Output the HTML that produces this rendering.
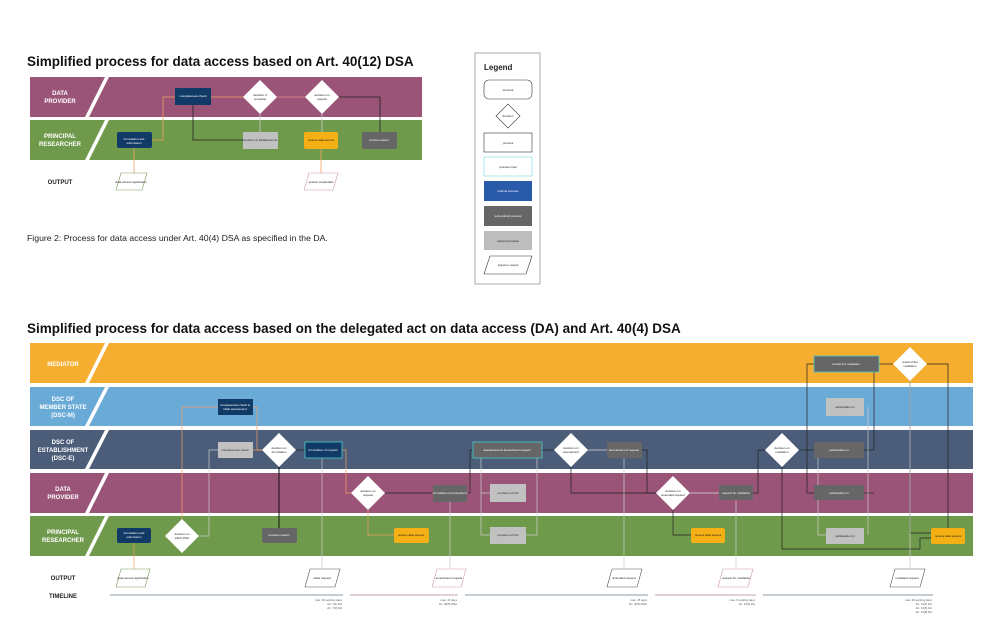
<!DOCTYPE html>
<html><head><meta charset="utf-8"><style>
html,body{margin:0;padding:0;background:#fff;}
svg{display:block;font-family:"Liberation Sans",sans-serif;}
.t{font-size:3px;fill:#fff;text-anchor:middle;}
.tk{font-size:3px;fill:#222;text-anchor:middle;}
.lab{font-size:6px;font-weight:bold;fill:#fff;text-anchor:middle;}
</style></head><body>
<svg width="1000" height="633" viewBox="0 0 1000 633" xmlns="http://www.w3.org/2000/svg">
<rect width="1000" height="633" fill="#fff"/>
<!-- TOP DIAGRAM -->
<text x="27" y="66" font-size="13.5" font-weight="bold" fill="#111">Simplified process for data access based on Art. 40(12) DSA</text>
<rect x="30" y="77" width="392" height="40" fill="#9a5477"/>
<rect x="30" y="120" width="392" height="40" fill="#6f9a4c"/>
<polygon points="105,77 109,77 89,117 85,117" fill="#fff"/>
<polygon points="105,120 109,120 89,160 85,160" fill="#fff"/>
<text class="lab" x="60" y="95">DATA</text><text class="lab" x="60" y="103">PROVIDER</text>
<text class="lab" x="60" y="138">PRINCIPAL</text><text class="lab" x="60" y="146">RESEARCHER</text>
<text x="60" y="184" font-size="6" font-weight="bold" fill="#222" text-anchor="middle">OUTPUT</text>
<g fill="none" stroke-width="0.8">
<path d="M152,140 H163 V97 H175" stroke="#f0a060"/>
<path d="M211,97 H243" stroke="#f0a060"/>
<path d="M277,97 H305" stroke="#d88"/>
<path d="M193,105 V140 H243" stroke="#222"/>
<path d="M260,114 V132" stroke="#ccc"/>
<path d="M322,114 V132" stroke="#ccc"/>
<path d="M339,97 H380 V132" stroke="#222"/>
<path d="M134,148 V173" stroke="#f0a060"/>
<path d="M321,149 V173" stroke="#f0a060"/>
</g>
<rect x="175" y="88" width="36" height="17" fill="#123a66"/><text class="t" x="193" y="97">completeness check</text>
<polygon points="260,80 277,97 260,114 243,97" fill="#fff"/><text class="tk" x="260" y="96">decision if</text><text class="tk" x="260" y="100">complete</text>
<polygon points="322,80 339,97 322,114 305,97" fill="#fff"/><text class="tk" x="322" y="96">decision on</text><text class="tk" x="322" y="100">request</text>
<rect x="117" y="132" width="35" height="16" rx="2" fill="#123a66"/><text class="t" x="134" y="140">formulation and</text><text class="t" x="134" y="144">submission</text>
<rect x="243" y="132" width="35" height="17" fill="#c1c1c1"/><text class="tk" x="260" y="141">provision of additional info</text>
<rect x="304" y="132" width="34" height="17" rx="2" fill="#f4b014"/><text class="tk" x="321" y="141">receive data access</text>
<rect x="362" y="132" width="35" height="17" rx="2" fill="#666"/><text class="t" x="379" y="141">receive reason</text>
<polygon points="121,173 147,173 142,190 116,190" fill="#fff" stroke="#7a9a5a" stroke-width="0.6"/><text class="tk" x="131" y="183">data access application</text>
<polygon points="309,173 338,173 333,190 304,190" fill="#fff" stroke="#c9a" stroke-width="0.6"/><text class="tk" x="321" y="183">access credentials</text>
<text x="27" y="241" font-size="8.7" fill="#222">Figure 2: Process for data access under Art. 40(4) DSA as specified in the DA.</text>
<!-- LEGEND -->
<rect x="475" y="53" width="65" height="231" fill="#fff" stroke="#888" stroke-width="0.7"/>
<text x="484" y="70" font-size="8" font-weight="bold" fill="#222">Legend</text>
<rect x="484" y="80" width="48" height="19" rx="5" fill="#fff" stroke="#333" stroke-width="0.6"/><text class="tk" x="508" y="91">terminal</text>
<polygon points="508,104 520,116 508,128 496,116" fill="#fff" stroke="#333" stroke-width="0.6"/><text class="tk" x="508" y="117">decision</text>
<rect x="484" y="133" width="48" height="19" fill="#fff" stroke="#333" stroke-width="0.6"/><text class="tk" x="508" y="144">process</text>
<rect x="484" y="157" width="48" height="19" fill="#fff" stroke="#7dd" stroke-width="0.6"/><text class="tk" x="508" y="168">process input</text>
<rect x="484" y="181" width="48" height="20" fill="#2a5aaa"/><text class="t" x="508" y="192">optimal process</text>
<rect x="484" y="206" width="48" height="20" fill="#666"/><text class="t" x="508" y="217">sub-optimal process</text>
<rect x="484" y="231" width="48" height="19" fill="#bdbdbd"/><text class="tk" x="508" y="242">optional process</text>
<polygon points="490,256 532,256 526,274 484,274" fill="#fff" stroke="#333" stroke-width="0.6"/><text class="tk" x="508" y="266">signal or output</text>
<!-- BOTTOM DIAGRAM -->
<text x="27" y="333" font-size="13.5" font-weight="bold" fill="#111">Simplified process for data access based on the delegated act on data access (DA) and Art. 40(4) DSA</text>
<rect x="30" y="343" width="943" height="40" fill="#f5ae30"/>
<rect x="30" y="387" width="943" height="39" fill="#6aaad7"/>
<rect x="30" y="430" width="943" height="39" fill="#4b5d78"/>
<rect x="30" y="473" width="943" height="40" fill="#9a5477"/>
<rect x="30" y="516" width="943" height="40" fill="#6f9a4c"/>
<g fill="#fff">
<polygon points="105,343 109,343 89,383 85,383"/><polygon points="105,387 109,387 89,426 85,426"/>
<polygon points="105,430 109,430 89,469 85,469"/><polygon points="105,473 109,473 89,513 85,513"/>
<polygon points="105,516 109,516 89,556 85,556"/></g>
<text class="lab" x="63" y="366">MEDIATOR</text>
<text class="lab" x="63" y="401">DSC OF</text><text class="lab" x="63" y="409">MEMBER STATE</text><text class="lab" x="63" y="417" font-weight="normal">(DSC-M)</text>
<text class="lab" x="63" y="444">DSC OF</text><text class="lab" x="63" y="452">ESTABLISHMENT</text><text class="lab" x="63" y="460" font-weight="normal">(DSC-E)</text>
<text class="lab" x="63" y="491">DATA</text><text class="lab" x="63" y="499">PROVIDER</text>
<text class="lab" x="63" y="534">PRINCIPAL</text><text class="lab" x="63" y="542">RESEARCHER</text>
<text x="63" y="580" font-size="6" font-weight="bold" fill="#222" text-anchor="middle">OUTPUT</text>
<text x="63" y="598" font-size="6" font-weight="bold" fill="#222" text-anchor="middle">TIMELINE</text>
<!-- connectors -->
<g fill="none" stroke-width="0.7">
<path d="M199,536 H182" stroke="#f0a060"/>
<path d="M182,519 V407 H218" stroke="#f0a060"/>
<path d="M199,536 H209 V450 H218" stroke="#ccc"/>
<path d="M253,407 H257 V450 H262" stroke="#f0a060"/>
<path d="M253,450 H262" stroke="#f0a060"/>
<path d="M296,450 H305" stroke="#222"/>
<path d="M279,467 V528" stroke="#111" stroke-width="1"/>
<path d="M342,450 H346 V493 H351" stroke="#f0a060"/>
<path d="M385,493 H433" stroke="#222"/>
<path d="M368,510 V535 H394" stroke="#f0a060"/>
<path d="M467,493 H470 V450 H473" stroke="#222"/>
<path d="M481,458 V535 H490" stroke="#ccc"/><path d="M481,493 H490" stroke="#ccc"/>
<path d="M537,458 V535 H526" stroke="#ccc"/>
<path d="M542,450 H554" stroke="#222"/><path d="M588,450 H607" stroke="#ddd"/>
<path d="M571,467 V493 H656" stroke="#222"/>
<path d="M642,450 H647 V493 H656" stroke="#222"/>
<path d="M690,493 H719" stroke="#ddd"/>
<path d="M673,510 V535 H691" stroke="#222"/>
<path d="M753,493 H758 V450 H765" stroke="#222"/>
<path d="M799,450 H814" stroke="#222"/>
<path d="M807,450 V364 H814" stroke="#222"/><path d="M807,450 V493 H814" stroke="#222"/>
<path d="M864,450 H874 V364" stroke="#222"/><path d="M864,493 H874" stroke="#222"/>
<path d="M879,364 H893" stroke="#222"/>
<path d="M927,364 H948 V528" stroke="#222"/>
<path d="M910,380 V533 H931" stroke="#222"/>
<path d="M782,467 V549 H920 V538 H931" stroke="#222"/>
<path d="M818,458 V535 H826" stroke="#ccc"/><path d="M868,407 V535" stroke="#ccc"/>
<path d="M134,543 V569" stroke="#f0a060"/>
<path d="M322,458 V569" stroke="#ccc"/><path d="M450,502 V569" stroke="#ccc"/>
<path d="M624,458 V569" stroke="#ccc"/><path d="M736,500 V569" stroke="#ccc"/>
<path d="M910,380 V569" stroke="#ccc"/>
</g>
<!-- nodes -->
<rect x="218" y="399" width="35" height="16" fill="#123a66"/><text class="t" x="235" y="406">completeness check &amp;</text><text class="t" x="235" y="410">initial assessment</text>
<rect x="218" y="442" width="35" height="16" fill="#c1c1c1"/><text class="tk" x="235" y="451">completeness check</text>
<polygon points="279,433 296,450 279,467 262,450" fill="#fff"/><text class="tk" x="279" y="449">decision on</text><text class="tk" x="279" y="453">formulation</text>
<rect x="305" y="442" width="37" height="16" fill="#123a66" stroke="#4cc" stroke-width="0.8"/><text class="t" x="323" y="451">formulation of request</text>
<rect x="473" y="442" width="69" height="16" fill="#666" stroke="#4cc" stroke-width="0.8"/><text class="t" x="507" y="451">assessment of amendment request</text>
<polygon points="368,476 385,493 368,510 351,493" fill="#fff"/><text class="tk" x="368" y="492">decision on</text><text class="tk" x="368" y="496">request</text>
<rect x="433" y="485" width="34" height="17" fill="#666"/><text class="t" x="450" y="494">formulation of amendment</text>
<rect x="117" y="528" width="34" height="15" rx="2" fill="#123a66"/><text class="t" x="134" y="534">formulation and</text><text class="t" x="134" y="538">submission</text>
<polygon points="182,519 199,536 182,553 165,536" fill="#fff"/><text class="tk" x="182" y="535">decision on</text><text class="tk" x="182" y="539">which DSC</text>
<rect x="262" y="528" width="35" height="15" rx="2" fill="#666"/><text class="t" x="279" y="536">receives reason</text>
<rect x="394" y="528" width="35" height="15" rx="2" fill="#f4b014"/><text class="tk" x="411" y="536">receive data access</text>
<rect x="490" y="484" width="36" height="18" fill="#c1c1c1"/><text class="tk" x="508" y="494">provision of info</text>
<rect x="490" y="527" width="36" height="17" fill="#c1c1c1"/><text class="tk" x="508" y="536">provision of info</text>
<polygon points="571,433 588,450 571,467 554,450" fill="#fff"/><text class="tk" x="571" y="449">decision on</text><text class="tk" x="571" y="453">amendment</text>
<rect x="607" y="442" width="35" height="16" fill="#666"/><text class="t" x="624" y="451">amendment of request</text>
<polygon points="673,476 690,493 673,510 656,493" fill="#fff"/><text class="tk" x="673" y="492">decision on</text><text class="tk" x="673" y="496">amended request</text>
<rect x="719" y="485" width="34" height="15" fill="#666"/><text class="t" x="736" y="494">request for mediation</text>
<rect x="691" y="528" width="34" height="15" rx="2" fill="#f4b014"/><text class="tk" x="708" y="536">receive data access</text>
<polygon points="782,433 799,450 782,467 765,450" fill="#fff"/><text class="tk" x="782" y="449">decision on</text><text class="tk" x="782" y="453">mediation</text>
<rect x="814" y="356" width="65" height="16" fill="#666" stroke="#4cc" stroke-width="0.8"/><text class="t" x="846" y="365">conduct of mediation</text>
<polygon points="910,347 927,364 910,381 893,364" fill="#fff"/><text class="tk" x="910" y="363">result of the</text><text class="tk" x="910" y="367">mediation</text>
<rect x="826" y="398" width="38" height="18" fill="#c1c1c1"/><text class="tk" x="845" y="408">participation in</text>
<rect x="814" y="442" width="50" height="16" fill="#666"/><text class="t" x="839" y="451">participation in</text>
<rect x="814" y="485" width="50" height="15" fill="#666"/><text class="t" x="839" y="494">participation in</text>
<rect x="826" y="528" width="38" height="16" fill="#c1c1c1"/><text class="tk" x="845" y="537">participation in</text>
<rect x="931" y="528" width="34" height="16" rx="2" fill="#f4b014"/><text class="tk" x="948" y="537">receive data access</text>
<!-- outputs -->
<g fill="#fff" stroke-width="0.6">
<polygon points="121,569 150,569 145,587 116,587" stroke="#7a9a5a"/>
<polygon points="310,569 340,569 335,587 305,587" stroke="#555"/>
<polygon points="437,569 466,569 461,587 432,587" stroke="#c9a"/>
<polygon points="612,569 642,569 637,587 607,587" stroke="#555"/>
<polygon points="723,569 753,569 748,587 718,587" stroke="#c9a"/>
<polygon points="895,569 925,569 920,587 890,587" stroke="#555"/>
</g>
<text class="tk" x="133" y="579">data access application</text>
<text class="tk" x="322" y="579">initial request</text>
<text class="tk" x="449" y="579">amendment request</text>
<text class="tk" x="624" y="579">amended request</text>
<text class="tk" x="736" y="579">request for mediation</text>
<text class="tk" x="907" y="579">mediated request</text>
<!-- timeline -->
<g stroke-width="0.9">
<line x1="110" y1="595" x2="343" y2="595" stroke="#8a9aaa"/>
<line x1="350" y1="595" x2="458" y2="595" stroke="#c9a0b0"/>
<line x1="465" y1="595" x2="648" y2="595" stroke="#8a9aaa"/>
<line x1="655" y1="595" x2="756" y2="595" stroke="#c9a0b0"/>
<line x1="763" y1="595" x2="933" y2="595" stroke="#8a9aaa"/>
</g>
<g font-size="2.8" fill="#555" text-anchor="end">
<text x="342" y="601">max. 30 working days</text><text x="342" y="605">Art. 7(1) DA</text><text x="342" y="609">Art. 7(3) DA</text>
<text x="457" y="601">max. 15 days</text><text x="457" y="605">Art. 40(5) DSA</text>
<text x="647" y="601">max. 15 days</text><text x="647" y="605">Art. 40(6) DSA</text>
<text x="755" y="601">max. 5 working days</text><text x="755" y="605">Art. 13(1) DA</text>
<text x="932" y="601">max. 40 working days</text><text x="932" y="605">Art. 13(4) DA</text><text x="932" y="609">Art. 13(6) DA</text><text x="932" y="613">Art. 13(8) DA</text>
</g>
</svg>
</body></html>
